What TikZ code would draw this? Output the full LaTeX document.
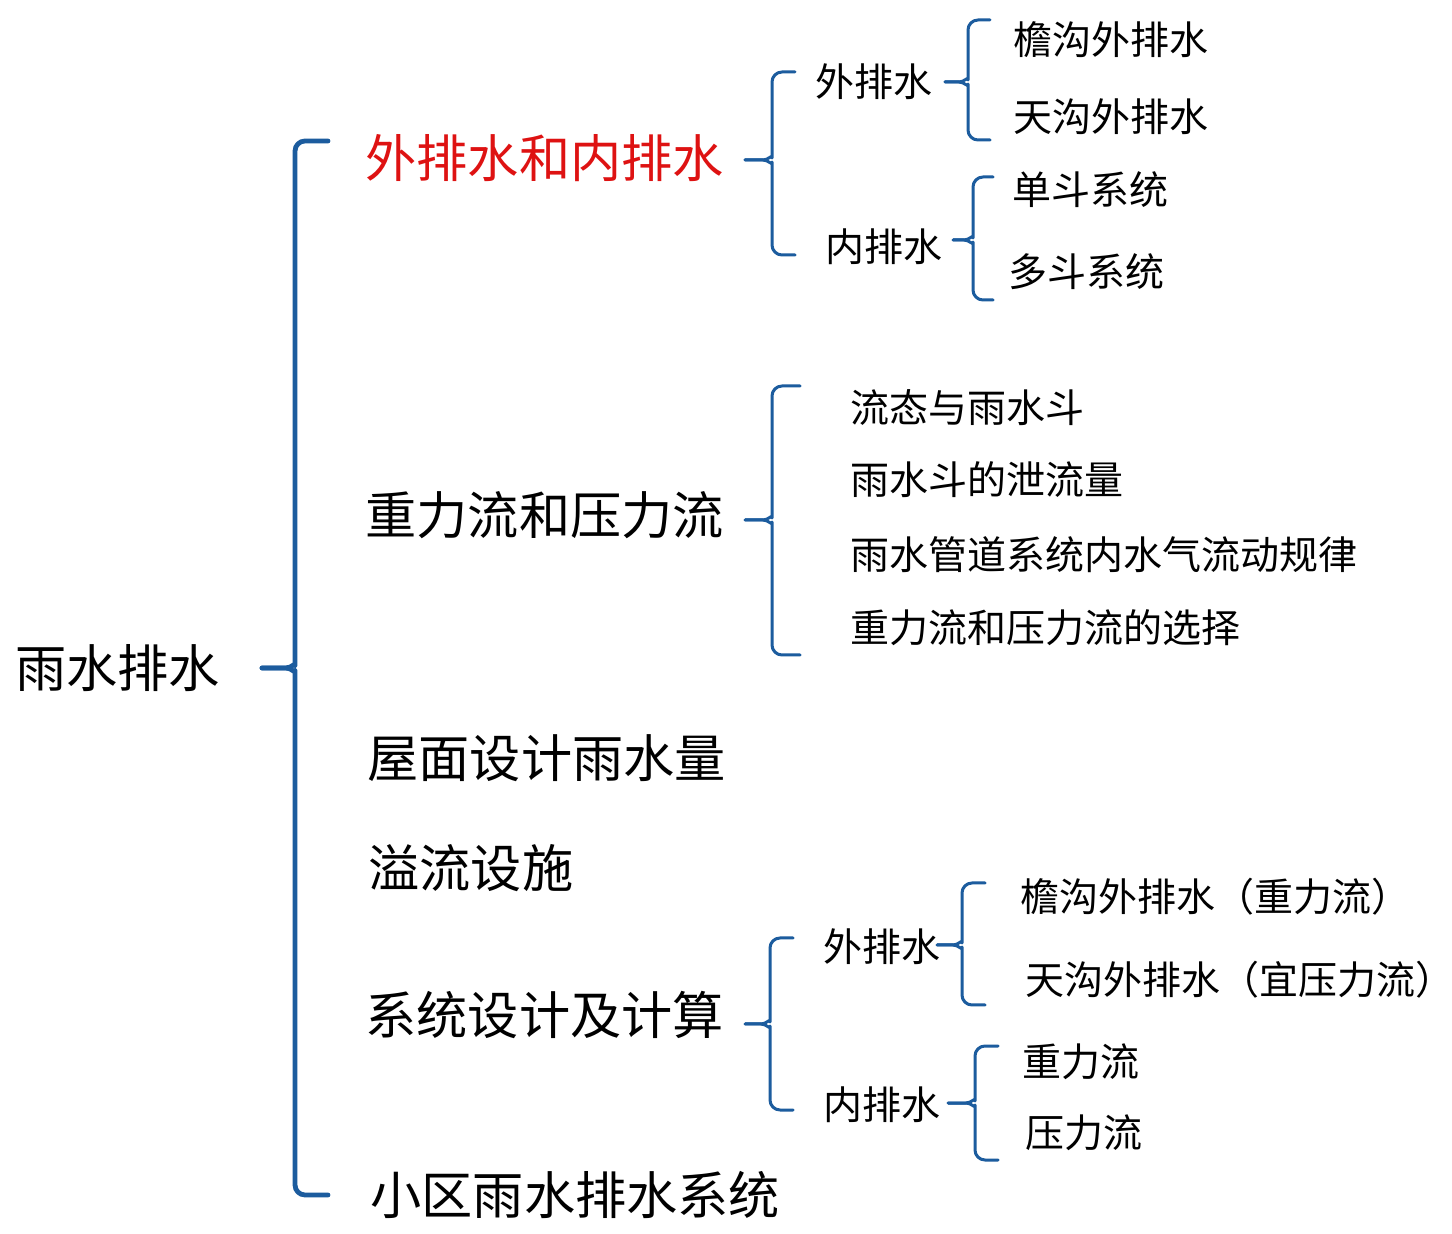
\documentclass[tikz,border=0pt]{standalone}
\usepackage{fontspec}
\setmainfont{Noto Sans CJK SC}
\definecolor{braceblue}{RGB}{28,92,158}
\definecolor{titlered}{RGB}{222,18,18}
\tikzset{
  bigtxt/.style={anchor=west,inner sep=0pt,font=\fontsize{25.6pt}{30pt}\selectfont,text=black},
  smalltxt/.style={anchor=west,inner sep=0pt,font=\fontsize{19.5pt}{23pt}\selectfont,text=black},
  bracemain/.style={draw=braceblue,line width=2.4pt,line join=round,line cap=round},
  bracesub/.style={draw=braceblue,line width=1.5pt,line join=round,line cap=round},
}
% #1 style, #2 tipx, #3 tipy, #4 vertical x, #5 top y, #6 bottom y, #7 hook x
\newcommand\mybrace[7]{%
  \draw[#1] (#7,#5) [rounded corners=5pt] -- (#4,#5) -- (#4,#3-12) [sharp corners] to[out=-90,in=0] (#4-9,#3) -- (#2,#3);
  \draw[#1] (#7,#6) [rounded corners=5pt] -- (#4,#6) -- (#4,#3+12) [sharp corners] to[out=90,in=0] (#4-9,#3) -- (#2,#3);
}
\begin{document}
\begin{tikzpicture}[x=0.5pt,y=-0.5pt]
\useasboundingbox[fill=white] (0,0) rectangle (1452,1234);
% root
\node[bigtxt] (root) at (15,668) {雨水排水};
\mybrace{bracemain}{262}{668}{295}{141}{1195}{328}
% level 1
\node[bigtxt,text=titlered] (a) at (365,158) {外排水和内排水};
\node[bigtxt] (b) at (365,515) {重力流和压力流};
\node[bigtxt] (c) at (367,758) {屋面设计雨水量};
\node[bigtxt] (d) at (368,868) {溢流设施};
\node[bigtxt] (e) at (365,1015) {系统设计及计算};
\node[bigtxt] (f) at (370,1195) {小区雨水排水系统};
% branch a
\mybrace{bracesub}{745}{160}{772}{72}{255}{795}
\node[smalltxt] (a1) at (815,82) {外排水};
\node[smalltxt] (a2) at (825,247) {内排水};
\mybrace{bracesub}{945}{82}{968}{20}{140}{990}
\node[smalltxt] (a11) at (1013,40) {檐沟外排水};
\node[smalltxt] (a12) at (1013,117) {天沟外排水};
\mybrace{bracesub}{953}{240}{973}{177}{300}{993}
\node[smalltxt] (a21) at (1012,190) {单斗系统};
\node[smalltxt] (a22) at (1008,272) {多斗系统};
% branch b
\mybrace{bracesub}{745}{520}{772}{386}{655}{800}
\node[smalltxt] (b1) at (850,408) {流态与雨水斗};
\node[smalltxt] (b2) at (850,480) {雨水斗的泄流量};
\node[smalltxt] (b3) at (850,555) {雨水管道系统内水气流动规律};
\node[smalltxt] (b4) at (850,628) {重力流和压力流的选择};
% branch e
\mybrace{bracesub}{745}{1024}{770}{938}{1110}{793}
\node[smalltxt] (e1) at (823,947) {外排水};
\node[smalltxt] (e2) at (823,1105) {内排水};
\mybrace{bracesub}{937}{945}{962}{883}{1005}{985}
\node[smalltxt] (e11) at (1020,897) {檐沟外排水（重力流）};
\node[smalltxt] (e12) at (1025,980) {天沟外排水（宜压力流）};
\mybrace{bracesub}{948}{1103}{975}{1046}{1160}{998}
\node[smalltxt] (e21) at (1022,1062) {重力流};
\node[smalltxt] (e22) at (1025,1133) {压力流};
\end{tikzpicture}
\end{document}
